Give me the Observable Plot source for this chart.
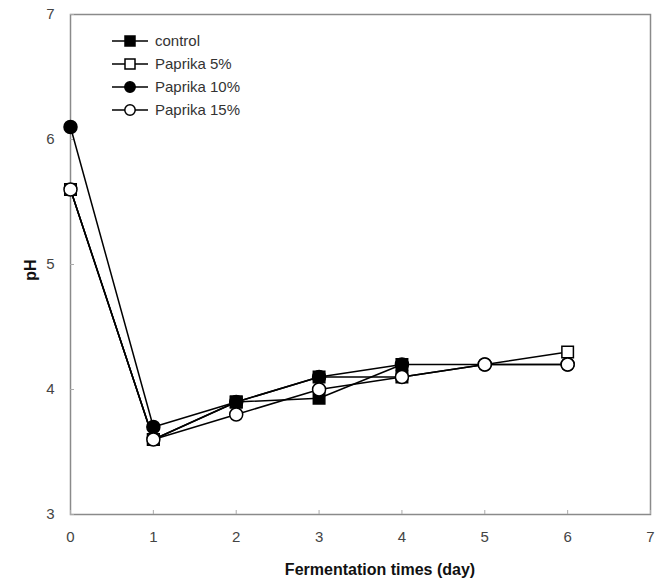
<!DOCTYPE html>
<html>
<head>
<meta charset="utf-8">
<script src="https://cdn.jsdelivr.net/npm/d3@7"></script>
<script src="https://cdn.jsdelivr.net/npm/@observablehq/plot@0.6"></script>
<style>
  html, body { margin: 0; padding: 0; background: #fff; }
  #chart { position: relative; width: 663px; height: 581px; }
</style>
</head>
<body>
<div id="chart"></div>
<script>
const days = [0, 1, 2, 3, 4, 5, 6];
const seriesNames = ["control", "Paprika 5%", "Paprika 10%", "Paprika 15%"];
const control    = [5.6, 3.6, 3.9, 3.93, 4.2, null, null];
const paprika5   = [5.6, 3.6, 3.9, 4.1, 4.1, null, 4.3];
const paprika10  = [6.1, 3.7, 3.9, 4.1, 4.2, 4.2, 4.2];
const paprika15  = [5.6, 3.6, 3.8, 4.0, 4.1, 4.2, 4.2];
const xTicks = [0, 1, 2, 3, 4, 5, 6, 7];
const yTicks = [3, 4, 5, 6, 7];
const symbols = ["square", "square", "circle", "circle"];
const fills = ["black", "white", "black", "white"];

const allValues = [control, paprika5, paprika10, paprika15];
const rows = [];
allValues.forEach((vals, si) => {
  vals.forEach((v, i) => {
    if (v != null) rows.push({series: seriesNames[si], si, day: days[i], ph: v});
  });
});

const marks = [
  Plot.frame({stroke: "#8a8a8a", strokeWidth: 1.5}),
  Plot.axisX(xTicks, {tickSize: -4, text: null, stroke: "#aaa"}),
  Plot.axisY(yTicks, {tickSize: -4, text: null, stroke: "#aaa"}),
  Plot.axisX(xTicks, {tickSize: 0, tickPadding: 17, fontSize: 15, fill: "#444", label: null, tickFormat: d => String(d)}),
  Plot.axisY(yTicks, {tickSize: 0, tickPadding: 16, fontSize: 15, fill: "#444", label: null, tickFormat: d => String(d)})
];
seriesNames.forEach((name, si) => {
  marks.push(Plot.line(rows.filter(d => d.si === si), {x: "day", y: "ph", stroke: "black", strokeWidth: 1.5}));
});
seriesNames.forEach((name, si) => {
  marks.push(Plot.dot(rows.filter(d => d.si === si), {
    x: "day", y: "ph", symbol: () => symbols[si], r: 6.5,
    fill: fills[si], stroke: "black", strokeWidth: 1.5
  }));
});

const chart = Plot.plot({
  width: 663,
  height: 581,
  marginLeft: 70,
  marginRight: 13,
  marginTop: 14,
  marginBottom: 67,
  style: {fontFamily: "Liberation Sans, Arial, sans-serif", background: "white"},
  x: {domain: [0, 7], label: null},
  y: {domain: [3, 7], label: null},
  symbol: {type: "identity"},
  marks
});

const svg = d3.select(chart);
svg.append("text")
  .attr("x", 380).attr("y", 575)
  .attr("text-anchor", "middle")
  .attr("font-family", "Liberation Sans, Arial, sans-serif")
  .attr("font-weight", "bold").attr("font-size", 16)
  .attr("fill", "#111")
  .text("Fermentation times (day)");
svg.append("text")
  .attr("transform", "translate(30,270) rotate(-90)")
  .attr("text-anchor", "middle")
  .attr("dy", "0.35em")
  .attr("font-family", "Liberation Sans, Arial, sans-serif")
  .attr("font-weight", "bold").attr("font-size", 16)
  .attr("fill", "#111")
  .text("pH");

// Legend
const lg = svg.append("g").attr("transform", "translate(112,41)");
seriesNames.forEach((name, si) => {
  const g = lg.append("g").attr("transform", `translate(0,${si * 23})`);
  g.append("line").attr("x1", 0).attr("x2", 36).attr("y1", 0).attr("y2", 0)
    .attr("stroke", "black").attr("stroke-width", 1.5);
  const sym = si < 2 ? d3.symbolSquare : d3.symbolCircle;
  const size = si < 2 ? 100 : 85;
  g.append("path").attr("d", d3.symbol(sym, size)()).attr("transform", "translate(18,0)")
    .attr("fill", fills[si]).attr("stroke", "black").attr("stroke-width", 1.5);
  g.append("text").attr("x", 43).attr("y", 0).attr("dy", "0.35em")
    .attr("text-anchor", "start")
    .attr("font-family", "Liberation Sans, Arial, sans-serif")
    .attr("font-size", 15).attr("fill", "#333")
    .text(name);
});

document.getElementById("chart").appendChild(chart);
</script>
</body>
</html>
